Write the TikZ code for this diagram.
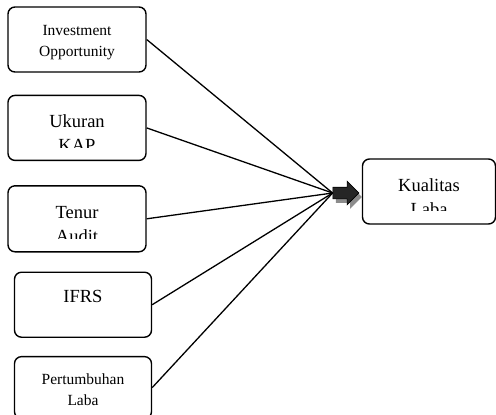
\documentclass[tikz,border=0pt]{standalone}
\usepackage{fontspec}
\setmainfont{Liberation Serif}
\usetikzlibrary{positioning, shapes.arrows, shadows}

\begin{document}
\begin{tikzpicture}[x=1bp,y=-1bp]
    \tikzstyle{varbox}=[draw, rounded corners=7bp, line width=1.4bp, minimum width=138bp, minimum height=65bp, inner sep=0pt]
    \tikzstyle{smalltext}=[font=\fontsize{15.5bp}{21bp}\selectfont, align=center, anchor=base, inner sep=0pt]
    \tikzstyle{largetext}=[font=\fontsize{18.5bp}{24bp}\selectfont, align=center, anchor=base, inner sep=0pt]
    \tikzstyle{link}=[line width=1.3bp]

    \useasboundingbox (0,0) rectangle (496,414);

    % independent variables
    \node (inv) [varbox] at (77,39.5) {};
    \node (kap) [varbox, below=22bp of inv] {};
    \node (ten) [varbox, below=24bp of kap, minimum height=66bp] {};
    \node (ifrs) [varbox, below=19bp of ten, xshift=6bp, minimum width=137bp] {};
    \node (tumbuh) [varbox, below=18bp of ifrs, minimum width=137bp, minimum height=62bp] {};

    % dependent variable
    \node (kual) [varbox, minimum width=133bp] at (429,191.5) {};

    % base of a two line text is its last line
    \node (inv-t) [smalltext] at ([yshift=-50bp]inv.north) {Investment\\Opportunity};
    \node (ifrs-t) [largetext] at ([yshift=-31bp]ifrs.north) {IFRS};
    \node (tumbuh-t) [smalltext] at ([yshift=-50bp]tumbuh.north) {Pertumbuhan\\Laba};

    \begin{scope}
        \clip (kap.north west) rectangle ([yshift=14bp]kap.south east);
        \node (kap-t) [largetext] at ([yshift=-57bp]kap.north) {Ukuran\\KAP};
    \end{scope}
    \begin{scope}
        \clip (ten.north west) rectangle ([yshift=14bp]ten.south east);
        \node (ten-t) [largetext] at ([yshift=-57bp]ten.north) {Tenur\\Audit};
    \end{scope}
    \begin{scope}
        \clip (kual.north west) rectangle ([yshift=14bp]kual.south east);
        \node (kual-t) [largetext] at ([yshift=-57bp]kual.north) {Kualitas\\Laba};
    \end{scope}

    % block arrow
    \node (arr) [single arrow, draw=black, fill=black!85, line width=0.6bp,
        minimum height=26bp, minimum width=23bp, single arrow head extend=6bp,
        inner sep=5.5bp, drop shadow={shadow xshift=3bp, shadow yshift=-4bp, fill=black!45, opacity=1}]
        at (343,193) {};

    \draw [link] (inv.east) -- (arr.west);
    \draw [link] (kap.east) -- (arr.west);
    \draw [link] (ten.east) -- (arr.west);
    \draw [link] (ifrs.east) -- (arr.west);
    \draw [link] (tumbuh.east) -- (arr.west);
\end{tikzpicture}
\end{document}
